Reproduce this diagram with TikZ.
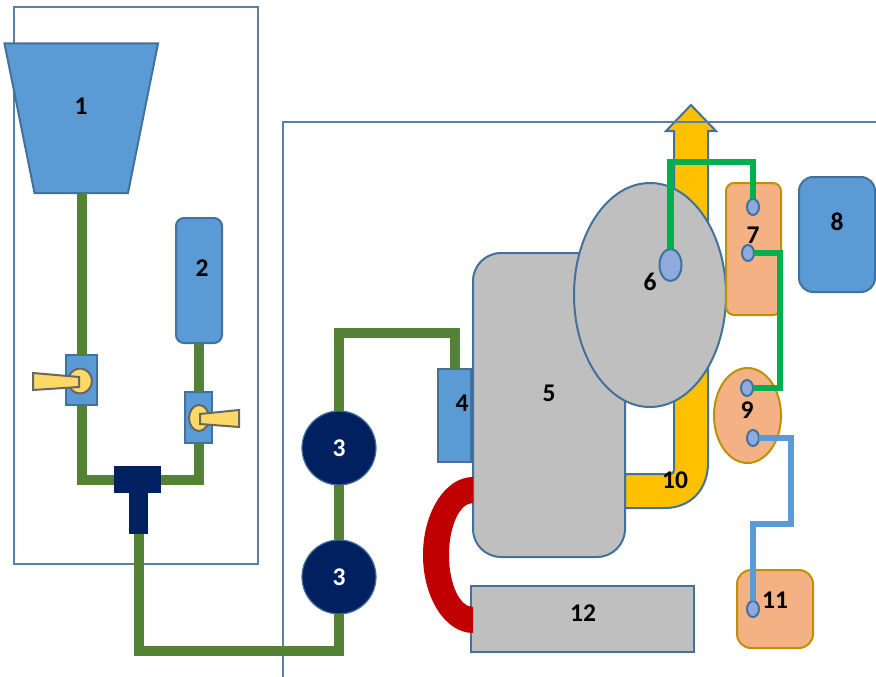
\documentclass[tikz,border=0pt]{standalone}
\usepackage{fontspec}
\setmainfont{Carlito}
\usetikzlibrary{shapes.geometric}
\definecolor{bluefill}{HTML}{5B9BD5}
\definecolor{blueline}{HTML}{41719C}
\definecolor{framecol}{HTML}{5B80A5}
\definecolor{grayfill}{HTML}{BFBFBF}
\definecolor{orangefill}{HTML}{F4B183}
\definecolor{orangeline}{HTML}{BF9000}
\definecolor{olivepipe}{HTML}{548235}
\definecolor{greenpipe}{HTML}{00B050}
\definecolor{navy}{HTML}{002060}
\definecolor{redc}{HTML}{C00000}
\definecolor{gold}{HTML}{FFC000}
\definecolor{handle}{HTML}{FFD966}
\definecolor{handleline}{HTML}{666666}
\definecolor{portfill}{HTML}{8FAADC}
\tikzset{
  box/.style={draw=blueline,line width=2pt,inner sep=0pt,outer sep=0pt},
  bluebox/.style={box,fill=bluefill},
  graybox/.style={box,fill=grayfill},
  orangebox/.style={draw=orangeline,line width=2pt,fill=orangefill,inner sep=0pt,outer sep=0pt},
  dims/.style 2 args={minimum width=#1pt,minimum height=#2pt},
  port/.style 2 args={ellipse,box,fill=portfill,minimum width=#1pt,minimum height=#2pt},
  pump/.style={circle,draw=blueline,line width=1.2pt,fill=navy,minimum size=74pt,inner sep=0pt,outer sep=0pt,text=white,font=\fontsize{25.5}{25.5}\selectfont\bfseries},
  tee/.style={fill=navy,inner sep=0pt,outer sep=0pt},
  knob/.style={ellipse,draw=handleline,line width=2pt,fill=handle,inner sep=0pt,outer sep=0pt},
  lever/.style={draw=handleline,line width=2pt,fill=handle},
  olive/.style={draw=olivepipe,line width=10pt},
  greenline/.style={draw=greenpipe,line width=6.5pt},
  blueconn/.style={draw=bluefill,line width=6pt},
  framing/.style={draw=framecol,line width=2pt},
  lab/.style={inner sep=0pt,font=\fontsize{25.5}{25.5}\selectfont\bfseries}
}
\begin{document}
\begin{tikzpicture}[x=1pt,y=-1pt]
\useasboundingbox (0,0) rectangle (876,677);
% left frame
\draw[framing] (13.5,7) rectangle (257.5,563.5);
% exhaust arrow 10
\path[fill=gold,draw=blueline,line width=2pt]
  (625,474) -- (670,474) .. controls (672.5,474) and (674,472.5) .. (674,470)
  -- (674,131) -- (666,131) -- (691,105) -- (716,131) -- (708,131) -- (708,463)
  .. controls (708,490) and (690,508) .. (665,508) -- (625,508) -- cycle;
% right frame
\draw[framing] (282.5,677) -- (282.5,122) -- (876,122);
% hopper
\draw[fill=bluefill,draw=blueline,line width=2pt] (4.5,43.5) -- (158,43.5) -- (128,193) -- (34.5,193) -- cycle;
\coordinate (hopperout) at (81.5,193);
\node[lab] (l1) at (81,106) {1};
% tank 2
\node[bluebox,rounded corners=8pt,dims={46}{125}] (tank) at (199,280.5) {};
\node[lab] (l2) at (202,268) {2};
% valves
\node[bluebox,dims={31}{50}] (valveA) at (81.5,380) {};
\node[bluebox,dims={27}{51}] (valveB) at (198.5,417.5) {};
\node[knob,minimum width=24pt,minimum height=25pt] (knobA) at (80,381) {};
\node[knob,minimum width=20pt,minimum height=26pt] (knobB) at (199,418) {};
\draw[lever] (33,373) -- (79,377) -- (79,387) -- (33,390) -- cycle;
\draw[lever] (239,410) -- (200,414) -- (200,424) -- (239,427) -- cycle;
% tee
\node[tee,dims={47}{27}] (teebar) at (137.5,479.5) {};
\node[tee,dims={19}{41}] (teestem) at (138.5,513.5) {};
% pumps
\node[pump] (pumpA) at (339,448) {3};
\node[pump] (pumpB) at (339,577) {3};
% block 4
\node[bluebox,dims={33}{93}] (four) at (454.5,415.5) {};
\node[lab] (l4) at (462,403) {4};
% block 12
\node[graybox,dims={223}{66}] (twelve) at (582.5,619) {};
\node[lab] (l12) at (583,613) {12};
% block 5
\node[graybox,rounded corners=28pt,dims={152}{304}] (five) at (549,405) {};
\node[lab] (l5) at (549,393) {5};
% red loop
\fill[redc] (473,477) .. controls (445.4,477) and (423,512) .. (423,555)
  .. controls (423,598) and (445.4,633) .. (473,633) -- (473,607)
  .. controls (459.7,607) and (449,584) .. (449,555)
  .. controls (449,526) and (459.7,503) .. (473,503) -- cycle;
% ellipse 6
\node[ellipse,graybox,dims={152}{224}] (six) at (650,295) {};
\node[lab] (l6) at (650,282) {6};
\node[lab] (l10) at (675,480) {10};
% block 7
\node[orangebox,rounded corners=8pt,dims={55}{132}] (seven) at (753.5,249) {};
\node[lab] (l7) at (753,235) {7};
% block 8
\node[bluebox,rounded corners=14pt,dims={76}{115}] (eight) at (837,234.5) {};
\node[lab] (l8) at (837,222) {8};
% ellipse 9
\node[ellipse,orangebox,dims={67}{95}] (nine) at (747.5,415.5) {};
\node[lab] (l9) at (747,410) {9};
% block 11
\node[orangebox,rounded corners=14pt,dims={76}{78}] (eleven) at (775,609) {};
\node[lab] (l11) at (775,600) {11};
% ports
\node[port={22}{32}] (p6) at (670.5,265) {};
\node[port={12}{16}] (p7a) at (753,207) {};
\node[port={12}{16}] (p7b) at (748,253) {};
\node[port={12}{16}] (p9a) at (747,388) {};
\node[port={12}{16}] (p9b) at (753,438) {};
\node[port={12}{16}] (p11) at (753,609) {};
% olive pipes
\draw[olive] (hopperout) -- (hopperout |- valveA.north);
\draw[olive] (tank.south -| valveB.north) -- (valveB.north);
\draw[olive] (valveA.south) -- (valveA.south |- teebar.west) -- (teebar.west);
\draw[olive] (valveB.south) -- (valveB.south |- teebar.east) -- (teebar.east);
\draw[olive] (teestem.south) -- ++(0,117) -| (pumpB.south);
\draw[olive] (pumpB.north) -- (pumpA.south);
\draw[olive] (pumpA.north) -- ++(0,-78) -| (four.north);
% green lines
\draw[greenline] (p6.north) -- ++(0,-87) -| (p7a.north);
\draw[greenline] (p7b.east) -- ++(26,0) |- (p9a.east);
% blue line
\draw[blueconn] (p9b.east) -- ++(32,0) -- ++(0,86) -| (p11.north);
\end{tikzpicture}
\end{document}
